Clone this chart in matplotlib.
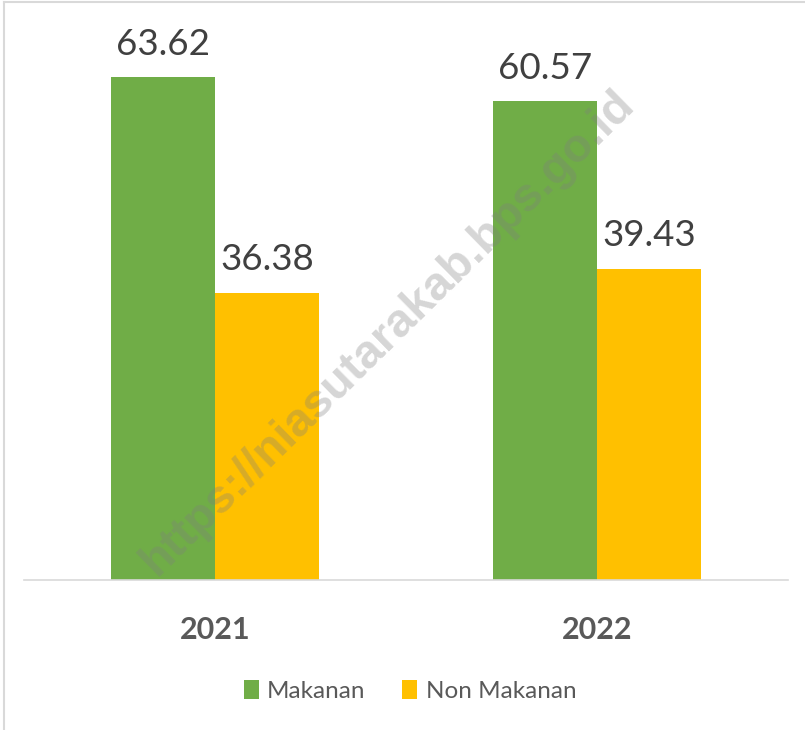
import matplotlib
matplotlib.use("Agg")
import matplotlib.pyplot as plt
from matplotlib.lines import Line2D
from matplotlib.patches import Patch
import numpy as np

years = ["2021", "2022"]
makanan = [63.62, 60.57]
non_makanan = [36.38, 39.43]
series_names = ["Makanan", "Non Makanan"]
colors = ["#70AD47", "#FFC000"]

plt.rcParams['font.family'] = ['Lato', 'DejaVu Sans']

W, H = 805, 730
fig = plt.figure(figsize=(W / 100, H / 100), dpi=100)
ax = fig.add_axes([24 / W, 1 - 580 / H, (788 - 24) / W, (580 - 10) / H])

x = np.arange(len(years))
bw = 104 / 382
b1 = ax.bar(x - bw / 2, makanan, bw, color=colors[0], label=series_names[0])
b2 = ax.bar(x + bw / 2, non_makanan, bw, color=colors[1], label=series_names[1])

for bars, vals in ((b1, makanan), (b2, non_makanan)):
    for r, v in zip(bars, vals):
        ax.annotate(f"{v:.2f}", (r.get_x() + r.get_width() / 2, v),
                    xytext=(0, 16), textcoords="offset points",
                    ha="center", va="baseline", fontsize=26.5, color="#404040")

ax.set_xlim(-0.5, 1.5)
ax.set_ylim(0, 570 / 7.9)
ax.set_yticks([])
ax.set_xticks(x)
ax.set_xticklabels(years, fontsize=22, fontweight="bold", color="#595959")
ax.tick_params(axis="x", length=0, pad=26)
for s in ["top", "right", "left"]:
    ax.spines[s].set_visible(False)
ax.spines["bottom"].set_color("#D9D9D9")
ax.spines["bottom"].set_linewidth(1.2)

# watermark
fig.text(388 / W, 1 - 333 / H, "https://niasutarakab.bps.go.id", rotation=44.5,
         ha="center", va="center", fontsize=34, fontweight="bold",
         family=["Liberation Sans", "DejaVu Sans"], color="#7F7F7F", alpha=0.32, zorder=10)

handles = [Patch(facecolor=c, edgecolor="none") for c in colors]
fig.legend(handles, series_names, loc="center", bbox_to_anchor=(410 / W, 1 - 691 / H),
           ncol=2, frameon=False, fontsize=17.5, labelcolor="#595959",
           handlelength=0.62, handleheight=0.85, handletextpad=0.35, columnspacing=1.5)

# frame lines (top and left)
fig.add_artist(Line2D([4 / W, 1], [1 - 2 / H, 1 - 2 / H], color="#D9D9D9", lw=1.5))
fig.add_artist(Line2D([4 / W, 4 / W], [0, 1 - 2 / H], color="#D9D9D9", lw=1.5))

fig.savefig("out.png", dpi=100, facecolor="white")
